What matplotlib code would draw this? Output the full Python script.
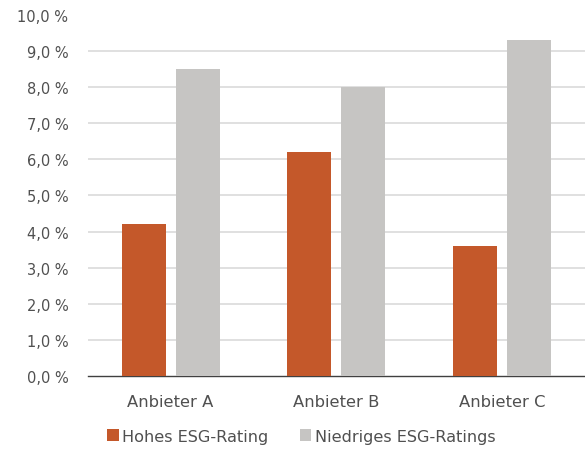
import matplotlib
matplotlib.use("Agg")
import matplotlib.pyplot as plt
import numpy as np
from matplotlib.ticker import FuncFormatter

categories = ["Anbieter A", "Anbieter B", "Anbieter C"]
hohes = [4.2, 6.2, 3.6]
niedriges = [8.5, 8.0, 9.3]
series_names = ["Hohes ESG-Rating", "Niedriges ESG-Ratings"]

plt.rcParams["font.family"] = ["DejaVu Sans"]

fig = plt.figure(figsize=(5.85, 4.52), dpi=100)
ax = fig.add_axes([0.150, 0.166, 0.85, 0.799])

x = np.arange(len(categories))
w = 0.265
gap = 0.06
orange = "#C4582A"
grey = "#C6C5C3"
ax.bar(x - (w + gap) / 2, hohes, w, color=orange, label=series_names[0], zorder=3)
ax.bar(x + (w + gap) / 2, niedriges, w, color=grey, label=series_names[1], zorder=3)

ax.set_xlim(-0.5, 2.5)
ax.set_ylim(0, 10)
ax.set_yticks(np.arange(0, 10.01, 1))
ax.yaxis.set_major_formatter(FuncFormatter(lambda v, p: f"{v:.1f}".replace(".", ",") + " %"))
ax.set_xticks(x)
ax.set_xticklabels(categories)

# horizontal gridlines for 1..9 % (no line at the top of the scale)
for yv in range(1, 10):
    ax.axhline(yv, color="#DADADA", linewidth=1.2, zorder=0)
for s in ["top", "right", "left"]:
    ax.spines[s].set_visible(False)
ax.spines["bottom"].set_color("#404040")
ax.spines["bottom"].set_linewidth(1.0)
ax.tick_params(axis="both", length=0, colors="#505050")
ax.tick_params(axis="y", pad=14, labelsize=10.5)
ax.tick_params(axis="x", pad=13, labelsize=11.8)

leg = fig.legend(loc="center", bbox_to_anchor=(0.515, 0.033), ncol=2, frameon=False,
                 fontsize=11.6, handlelength=0.7, handleheight=0.7, handletextpad=0.2,
                 columnspacing=2.0)
for t in leg.get_texts():
    t.set_color("#505050")

fig.savefig("out.png", dpi=100)
